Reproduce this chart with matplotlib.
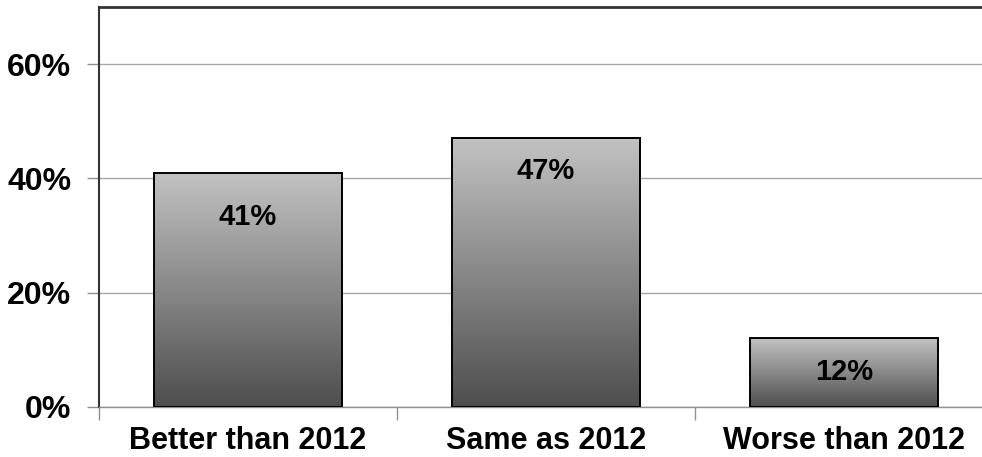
import numpy as np
import matplotlib.pyplot as plt
from matplotlib.colors import LinearSegmentedColormap
from matplotlib.ticker import FuncFormatter

# values
categories = ["Better than 2012", "Same as 2012", "Worse than 2012"]
shares = [41, 47, 12]
y_ticks = [0, 20, 40, 60]

# how far below the bar top each label sits (pixels)
label_drop = [44, 33, 34]

plt.rcParams['font.family'] = ['Liberation Sans', 'DejaVu Sans']

fig = plt.figure(figsize=(9.82, 4.57), dpi=100)
ax = fig.add_axes([99 / 982, 50 / 457, 894 / 982, 400 / 457])

x = np.arange(len(categories))
bars = ax.bar(x, shares, width=0.63, facecolor='none', edgecolor='black',
              linewidth=1.4, zorder=3)

# vertical grey gradient inside each bar, light on top, dark at bottom
shade = LinearSegmentedColormap.from_list('shade', ['#4e4e4e', '#c2c2c2'])
grad = np.linspace(0, 1, 256).reshape(-1, 1)
for bar in bars:
    x0, w, h = bar.get_x(), bar.get_width(), bar.get_height()
    img = ax.imshow(grad, cmap=shade, origin='lower', aspect='auto',
                    extent=[x0, x0 + w, 0, h], zorder=2)
    img.set_clip_path(bar)

for xi, v, drop in zip(x, shares, label_drop):
    ax.annotate(f"{v}%", (xi, v), xytext=(0, -drop), textcoords='offset pixels',
                ha='center', va='center', fontsize=21, fontweight='bold', zorder=4)

ax.set_xlim(-0.5, len(categories) - 0.5)
ax.set_ylim(0, 70)
ax.set_yticks(y_ticks)
ax.yaxis.set_major_formatter(FuncFormatter(lambda v, _: f"{v:.0f}%"))
ax.set_xticks(x)
ax.set_xticklabels(categories)
ax.set_xticks(np.arange(len(categories) + 1) - 0.5, minor=True)

ax.tick_params(axis='y', length=9, width=1, color='#909090', pad=11,
               labelsize=23)
ax.tick_params(axis='x', which='major', length=0, pad=14, labelsize=22)
ax.tick_params(axis='x', which='minor', length=9, width=1, color='#909090')
for lab in ax.get_xticklabels() + ax.get_yticklabels():
    lab.set_fontweight('bold')

ax.grid(axis='y', color='#a8a8a8', linewidth=1, zorder=0)
ax.set_axisbelow(True)

ax.spines['left'].set_color('#333333')
ax.spines['left'].set_linewidth(1.5)
ax.spines['top'].set_color('#333333')
ax.spines['top'].set_linewidth(2)
ax.spines['bottom'].set_color('#909090')
ax.spines['bottom'].set_linewidth(1)
ax.spines['right'].set_visible(False)

fig.savefig("out.png", dpi=100)
